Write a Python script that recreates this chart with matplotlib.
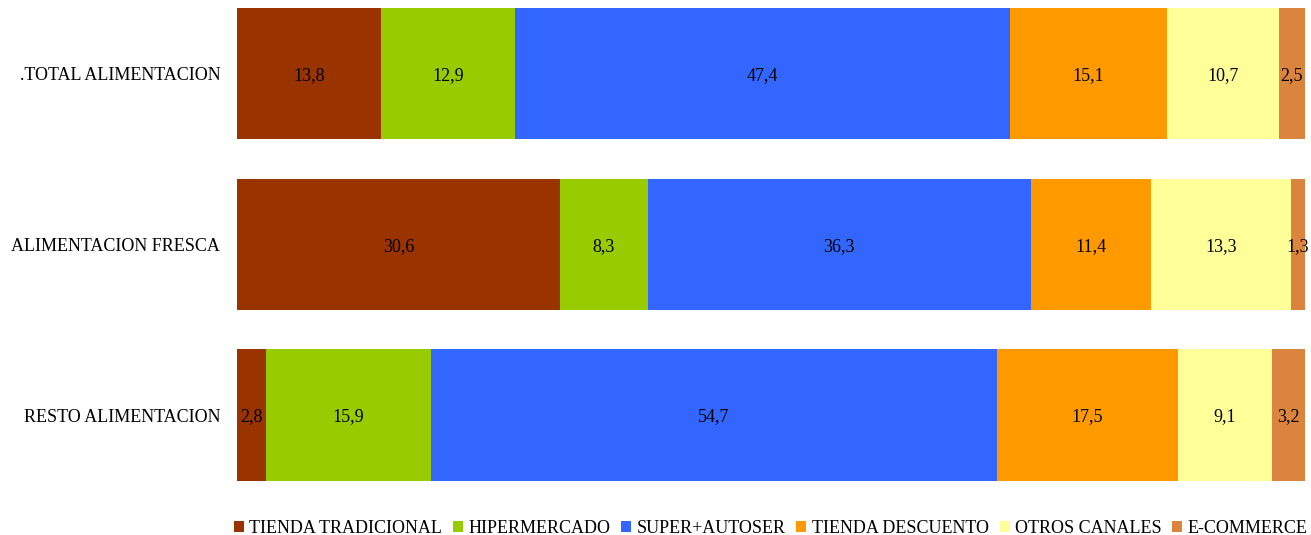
import numpy as np
from matplotlib import pyplot as plt

plt.rcParams['font.family'] = ['Liberation Serif', 'DejaVu Serif']

categories = ['.TOTAL ALIMENTACION', 'ALIMENTACION FRESCA', 'RESTO ALIMENTACION']
channels = ['TIENDA TRADICIONAL', 'HIPERMERCADO', 'SUPER+AUTOSER',
            'TIENDA DESCUENTO', 'OTROS CANALES', 'E-COMMERCE']
colors = ['#993300', '#99CC00', '#3366FF', '#FF9900', '#FFFF99', '#DB843D']

tradicional = [13.8, 30.6, 2.8]
hiper = [12.9, 8.3, 15.9]
super_autoser = [47.4, 36.3, 54.7]
descuento = [15.1, 11.4, 17.5]
otros = [10.7, 13.3, 9.1]
ecommerce = [2.5, 1.3, 3.2]

values = np.array([tradicional, hiper, super_autoser, descuento, otros, ecommerce])
totals = values.sum(axis=0)
shares = values / totals * 100

fig = plt.figure(figsize=(13.11, 5.35), dpi=100)
ax = fig.add_axes([0.1808, 0.101, 0.8146, 0.884])

y = np.arange(len(categories))
left = np.zeros(len(categories))
for i, name in enumerate(channels):
    bars = ax.barh(y, shares[i], left=left, height=0.77, color=colors[i], label=name)
    for j, b in enumerate(bars):
        ax.text(left[j] + shares[i][j] / 2, y[j] + 0.01, f'{values[i][j]:.1f}'.replace('.', ','),
                ha='center', va='center', fontsize=13, color='black')
    left += shares[i]

ax.set_xlim(0, 100)
ax.set_ylim(2.385, -0.385)
ax.set_yticks(y)
ax.set_yticklabels(categories, fontsize=13)
ax.tick_params(axis='y', length=0, pad=12)
ax.set_xticks([])
for s in ax.spines.values():
    s.set_visible(False)

fig.legend(loc='center', bbox_to_anchor=(0.588, 0.013), ncol=6, frameon=False,
           fontsize=13, handlelength=0.55, handleheight=0.55, handletextpad=0.3,
           columnspacing=0.6, borderaxespad=0)

fig.savefig('out.png', dpi=100)
